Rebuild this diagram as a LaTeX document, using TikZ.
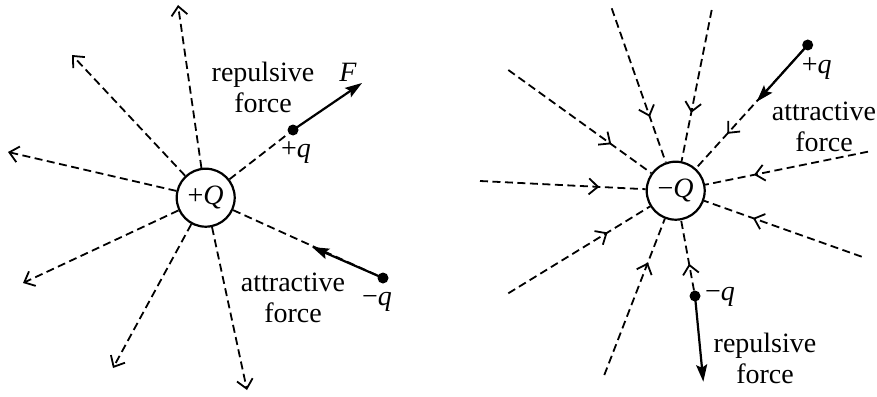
\documentclass[tikz,border=0pt]{standalone}
\usepackage{fontspec}
\setmainfont{Liberation Serif}
\usetikzlibrary{arrows.meta,decorations.markings}
\tikzset{
  field/.style={line width=1.8pt, dash pattern=on 8pt off 4.5pt},
  outarrow/.style={field, -{Straight Barb[length=9pt,width=16pt]}},
  inarrow/.style={field, postaction={decorate},
    decoration={markings, mark=at position #1 with {\arrow{Straight Barb[length=9pt,width=16pt]}}}},
  force/.style={line width=2.2pt, -{Stealth[length=17pt,width=11pt,inset=3pt]}},
  charge/.style={circle, draw, line width=2.2pt, minimum size=58pt, inner sep=0pt,
    font=\fontsize{28}{32}\selectfont},
  dotnode/.style={circle, fill, inner sep=0pt, minimum size=11pt},
  lbl/.style={inner sep=0pt, align=center, font=\fontsize{28}{31}\selectfont}
}
\begin{document}
\begin{tikzpicture}[x=1pt,y=-1pt]
\useasboundingbox (0,0) rectangle (877,396);
% ---------- left panel ----------
\node[charge] (Q1) at (205.7,197.7) {+\textit{Q}};
\coordinate (a1) at (178,5);
\coordinate (a2) at (72,55);
\coordinate (a3) at (8,152);
\coordinate (a4) at (23,283);
\coordinate (a5) at (113,368);
\coordinate (a6) at (247,390);
\node[dotnode] (pq1) at (293,130) {};
\node[dotnode] (mq1) at (383,278) {};
\coordinate (F1) at (362,83);
\coordinate (A1) at (312,247);
\foreach \e in {a1,a2,a3,a4,a5,a6} \draw[outarrow] (Q1) -- (\e);
\draw[field] (Q1) -- (pq1);
\draw[field] (Q1) -- (mq1);
\draw[force] (pq1.center) -- (F1);
\draw[force] (mq1.center) -- (A1);
\node[lbl] (rep1) at (263,87.5) {repulsive\\force};
\node[lbl] (Flbl) at (348,72) {\textit{F}};
\node[lbl] (pql1) at (296,153) {+\textit{q}};
\node[lbl] (att1) at (293,298) {attractive\\force};
\node[lbl] (mql1) at (377,302) {−\textit{q}};
% ---------- right panel ----------
\node[charge] (Q2) at (675.7,190.7) {−\textit{Q}};
\coordinate (b1) at (611.7,8.3);
\coordinate (b2) at (711.7,10);
\coordinate (b4) at (868,151.7);
\coordinate (b5) at (861.7,256.7);
\coordinate (b7) at (604.3,375);
\coordinate (b8) at (508.3,293.3);
\coordinate (b9) at (480,181);
\coordinate (b10) at (508.3,70);
\node[dotnode] (pq2) at (807.7,45) {};
\node[dotnode] (mq2) at (695,296) {};
\coordinate (A2) at (756.7,101.7);
\coordinate (R2) at (703.3,381.7);
\foreach \e/\p in {b1/0.705,b2/0.68,b4/0.70,b5/0.69,b7/0.72,b8/0.70,b9/0.72,b10/0.72}
  \draw[inarrow=\p] (\e) -- (Q2);
\draw[inarrow=0.71] (pq2) -- (Q2);
\draw[inarrow=0.38] (mq2) -- (Q2);
\draw[force] (pq2.center) -- (A2);
\draw[force] (mq2.center) -- (R2);
\node[lbl] (pql2) at (816.7,68.3) {+\textit{q}};
\node[lbl] (att2) at (824,126.7) {attractive\\force};
\node[lbl] (mql2) at (720,296.7) {−\textit{q}};
\node[lbl] (rep2) at (765,358) {repulsive\\force};
\end{tikzpicture}
\end{document}
